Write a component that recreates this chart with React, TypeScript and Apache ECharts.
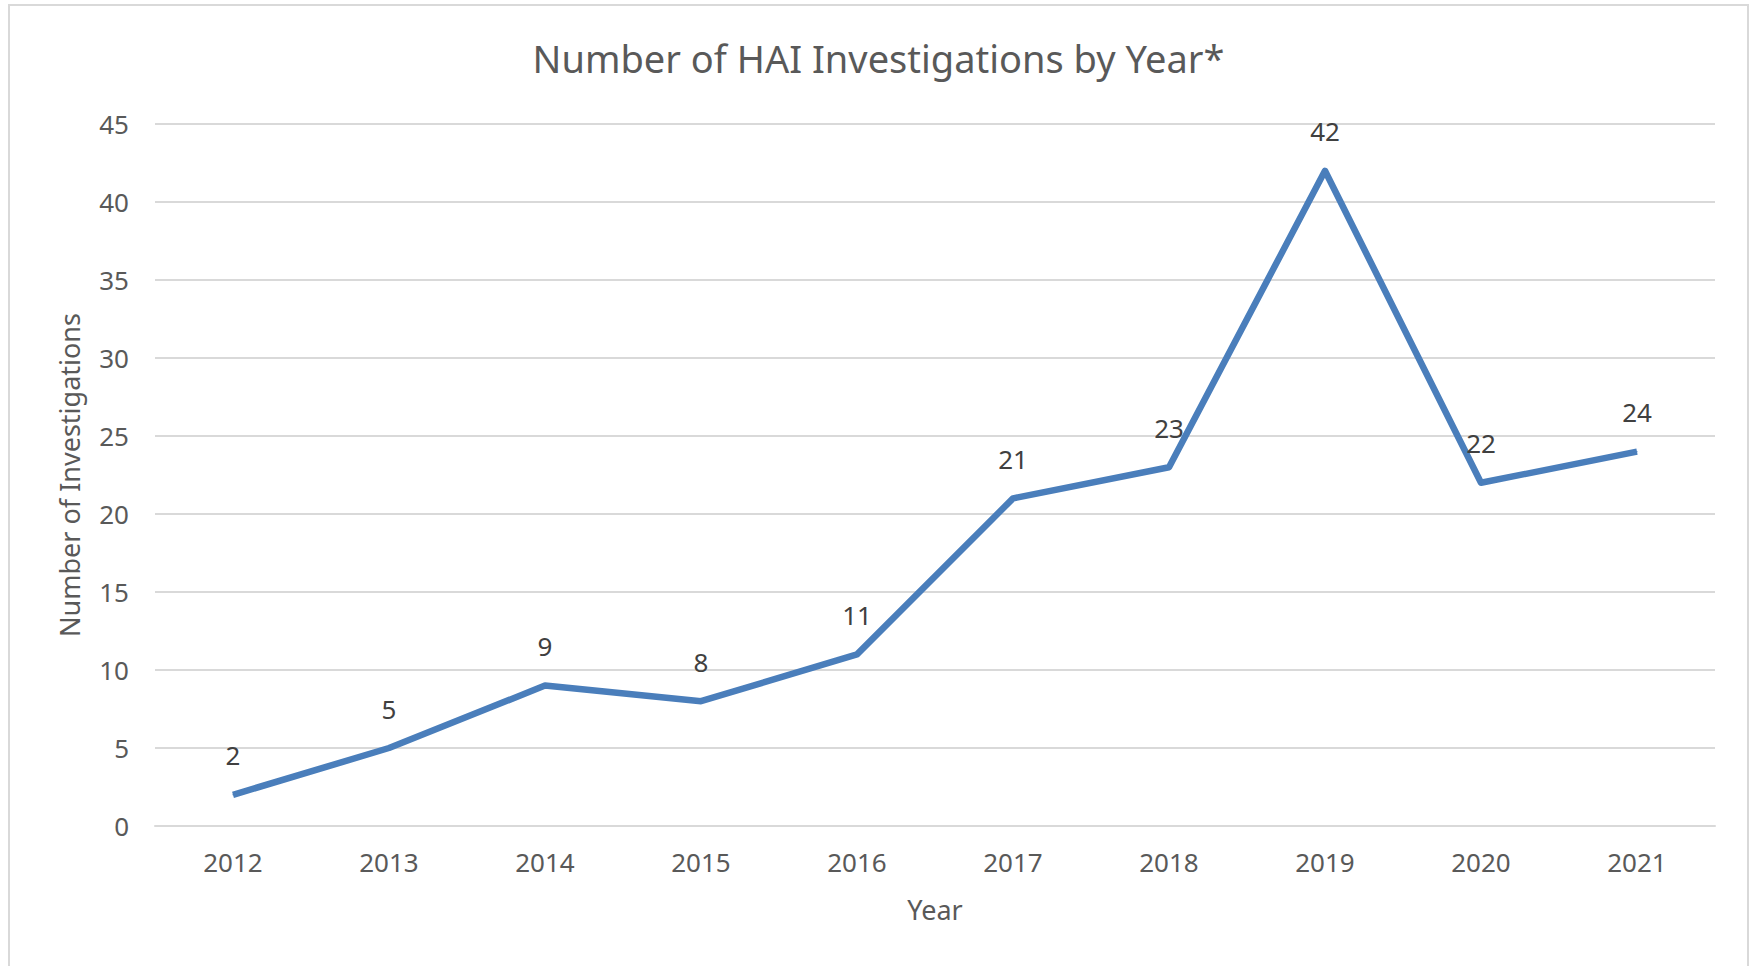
import React, { useEffect, useRef } from "react";
import * as echarts from "echarts";

const years = ["2012", "2013", "2014", "2015", "2016", "2017", "2018", "2019", "2020", "2021"];
const investigations = [2, 5, 9, 8, 11, 21, 23, 42, 22, 24];
const titleText = "Number of HAI Investigations by Year*";
const xName = "Year";
const yName = "Number of Investigations";

const FONT = "'Noto Sans', sans-serif";
const TXT = "#595959";

export default function App() {
  const ref = useRef<HTMLDivElement>(null);
  useEffect(() => {
    if (!ref.current) return;
    const chart = echarts.init(ref.current, undefined, { renderer: "svg" });
    chart.setOption({
      animation: false,
      backgroundColor: "#ffffff",
      textStyle: { fontFamily: FONT },
      title: {
        text: titleText,
        left: "center",
        top: 34,
        textStyle: { fontFamily: FONT, fontSize: 38, fontWeight: "normal", color: TXT },
      },
      graphic: [
        {
          type: "rect",
          shape: { x: 9, y: 5, width: 1739, height: 1000 },
          style: { fill: "none", stroke: "#d9d9d9", lineWidth: 2 },
          silent: true,
        },
      ],
      grid: { left: 155, right: 42, top: 124, bottom: 140 },
      xAxis: {
        type: "category",
        data: years,
        boundaryGap: true,
        name: xName,
        nameLocation: "middle",
        nameGap: 70,
        nameTextStyle: { fontFamily: FONT, fontSize: 27, color: TXT },
        axisLine: { show: true, lineStyle: { color: "#d9d9d9", width: 2 } },
        axisTick: { show: false },
        axisLabel: { fontFamily: FONT, fontSize: 26, color: TXT, margin: 23 },
      },
      yAxis: {
        type: "value",
        min: 0,
        max: 45,
        interval: 5,
        name: yName,
        nameLocation: "middle",
        nameGap: 72,
        nameTextStyle: { fontFamily: FONT, fontSize: 27, color: TXT },
        axisLine: { show: false },
        axisTick: { show: false },
        axisLabel: { fontFamily: FONT, fontSize: 26, color: TXT, margin: 26 },
        splitLine: { lineStyle: { color: "#d9d9d9", width: 2 } },
      },
      series: [
        {
          type: "line",
          data: investigations,
          symbol: "circle",
          symbolSize: 1,
          showSymbol: true,
          lineStyle: { color: "#4a7ebb", width: 6.5, join: "round" },
          itemStyle: { color: "#4a7ebb" },
          label: {
            show: true,
            position: "top",
            distance: 26,
            fontFamily: FONT,
            fontSize: 26,
            color: "#404040",
          },
        },
      ],
    });
    return () => chart.dispose();
  }, []);
  return (
    <div
      ref={ref}
      style={{ position: "fixed", left: 0, top: 0, width: 1757, height: 966 }}
    />
  );
}
